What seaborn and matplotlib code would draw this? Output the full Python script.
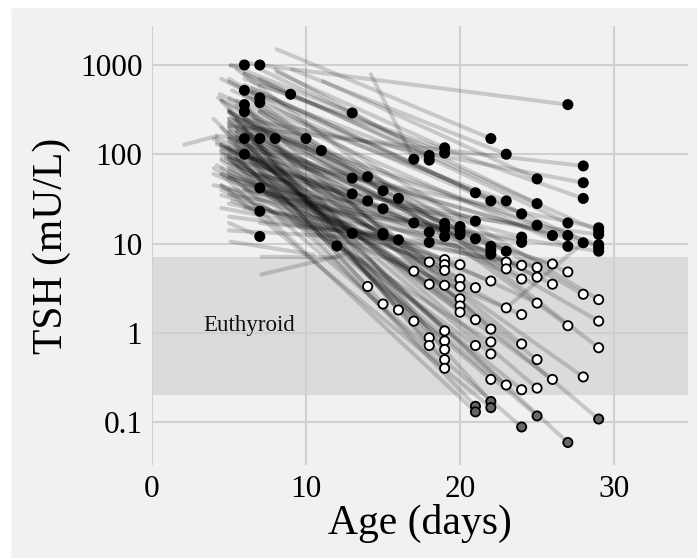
import matplotlib
matplotlib.use("Agg")
import matplotlib.pyplot as plt
from matplotlib.patches import Rectangle
import numpy as np
import pandas as pd
import seaborn as sns

# Individual TSH trajectories: start (age, TSH) -> end (age, TSH).
# The end of each trajectory is the plotted measurement.
start_day = [
    # early measurements, days 6-11
    5.1, 5.8, 4.5, 5.0, 5.2, 4.4, 4.3, 6.0, 4.2, 5.0, 5.5, 6.5, 7.0, 4.2, 5.0, 5.2, 5.0,
    # later measurements, still above range
    5.1, 4.5, 5.0, 4.2, 5.5, 5.0, 4.5, 5.0, 6.0, 4.5, 5.2, 7.0, 5.0,
    14.2, 8.0, 6.5, 8.1, 6.0, 4.5, 5.0, 4.8, 5.5, 4.5, 6.0, 5.0, 6.0, 4.0,
    6.0, 5.5, 4.5, 8.1, 6.0, 5.0, 5.0, 4.8, 9.1, 7.0, 5.5, 6.5, 5.0, 6.0,
    11.1, 7.0, 6.0, 5.0, 7.0, 7.0, 6.5, 5.5, 5.0, 6.0, 7.0, 6.0,
    5.5, 6.0, 7.0, 5.0, 6.5, 5.0,
    # later measurements, within or below range
    5.0, 4.5, 5.0, 4.5, 4.0, 4.0, 5.0, 4.5, 5.0,
    5.0, 4.5, 6.0, 4.5, 5.0, 4.0, 6.0, 5.5, 4.5,
    5.0, 4.2, 6.5, 5.0, 4.5, 6.0, 5.5, 5.0, 4.5, 5.0, 4.5,
    5.0, 6.0, 4.0, 5.5, 5.0, 6.0, 4.5, 5.0, 6.5, 5.0, 5.5,
    6.0, 5.0, 4.5, 6.0, 5.0, 4.5, 4.5, 6.5, 5.5, 5.0, 6.0, 5.5,
    7.0, 5.0, 6.0, 5.5, 6.0, 5.0, 7.0, 6.5, 5.0, 6.0, 5.5, 5.0,
]
start_tsh = [
    980, 1100, 700, 650, 520, 470, 430, 800, 160, 230, 260, 380, 300, 130, 55, 30, 17,
    1000, 400, 300, 150, 200, 60, 45, 250, 300, 120, 80, 17, 14,
    790, 900, 500, 830, 700, 130, 200, 90, 350, 100, 25, 420, 150, 45,
    600, 250, 60, 1500, 450, 300, 20, 120, 890, 330, 180, 550, 90, 40,
    660, 900, 200, 150, 1000, 700, 60, 400, 210, 250, 600, 120,
    100, 800, 40, 250, 500, 35,
    150, 200, 300, 110, 250, 60, 140, 400, 300,
    70, 35, 160, 90, 200, 150, 350, 180, 110,
    40, 75, 200, 65, 130, 100, 110, 180, 85, 120, 60,
    55, 350, 70, 140, 90, 200, 45, 28, 90, 80, 160,
    45, 110, 40, 260, 100, 70, 25, 170, 75, 230, 150, 90,
    60, 220, 110, 140, 500, 180, 300, 130, 700, 250, 900, 320,
]
end_day = [
    6, 7, 6, 7, 7, 6, 6, 9, 6, 7, 8, 10, 11, 6, 7, 7, 7,
    13, 13, 14, 13, 14, 13, 12, 15, 16, 15, 15, 15, 16,
    17, 18, 18, 19, 19, 17, 18, 18, 19, 19, 19, 20, 20, 20,
    21, 21, 21, 22, 22, 22, 22, 22, 23, 23, 23, 24, 24, 24,
    25, 25, 25, 26, 27, 27, 27, 27, 28, 28, 28, 28,
    29, 29, 29, 29, 29, 29,
    14, 15, 16, 17, 17, 18, 18, 18, 18,
    19, 19, 19, 19, 19, 19, 19, 19, 19,
    20, 20, 20, 20, 20, 20, 21, 21, 21, 21, 21,
    22, 22, 22, 22, 22, 22, 22, 23, 23, 23, 23,
    24, 24, 24, 24, 24, 24, 25, 25, 25, 25, 25, 25,
    26, 26, 26, 27, 27, 27, 28, 28, 29, 29, 29, 29,
]
end_tsh = [
    1000, 1000, 520, 430, 380, 360, 300, 470, 150, 150, 150, 150, 110, 100, 42, 23, 12,
    290, 54, 56, 36, 30, 13, 9.4, 39, 32, 24.5, 13, 12.5, 11,
    88, 97, 86, 118, 103, 17, 13.4, 10.3, 16.8, 14.7, 12, 15.5, 14, 12.6,
    37, 17.8, 11.3, 150, 30, 9.3, 8.4, 7.6, 100, 30, 8.2, 21.5, 11.8, 10.3,
    53, 28, 16, 12.3, 360, 17, 12.3, 9.3, 74, 48, 32, 10.2,
    15, 13.8, 12.6, 9.7, 9.0, 8.2,
    3.3, 2.1, 1.8, 4.9, 1.35, 6.2, 3.5, 0.88, 0.72,
    6.6, 5.8, 5.0, 3.4, 1.05, 0.81, 0.65, 0.5, 0.40,
    5.8, 4.0, 3.3, 2.4, 2.0, 1.7, 3.2, 1.4, 0.72, 0.15, 0.13,
    3.8, 1.1, 0.79, 0.58, 0.30, 0.17, 0.145, 6.2, 5.2, 1.9, 0.26,
    5.7, 4.0, 1.6, 0.75, 0.23, 0.088, 5.4, 4.2, 2.15, 0.5, 0.24, 0.117,
    5.9, 3.5, 0.30, 4.8, 1.2, 0.059, 2.7, 0.32, 2.35, 1.35, 0.68, 0.108,
]

# trajectory pieces with no measurement marked at their end
extra_start_day = [2.1, 7.1, 7.1, 5.1, 23.0]
extra_start_tsh = [128, 4.5, 7.1, 10.5, 1.9]
extra_end_day = [4.2, 12.5, 12.0, 10.5, 28.0]
extra_end_tsh = [160, 7.5, 7.0, 7.5, 10.2]

# euthyroid reference range (mU/L)
range_low = 0.2
range_high = 7

BG = "#F0F1F1"

sns.set_theme(style="whitegrid")
plt.rcParams["font.family"] = ["Liberation Serif", "DejaVu Serif"]

# long format so seaborn draws one line per trajectory
x0 = start_day + extra_start_day
y0 = start_tsh + extra_start_tsh
x1 = end_day + extra_end_day
y1 = end_tsh + extra_end_tsh
n = len(x0)
lines = pd.DataFrame({
    "id": np.repeat(np.arange(n), 2),
    "day": np.ravel(np.column_stack([x0, x1])),
    "tsh": np.ravel(np.column_stack([y0, y1])),
})

points = pd.DataFrame({"day": end_day, "tsh": end_tsh})
points["status"] = np.where(points["tsh"] > range_high, "high",
                            np.where(points["tsh"] < range_low, "low", "normal"))

fig = plt.figure(figsize=(6.97, 5.58), dpi=100, facecolor=BG)
# thin white margin along the top and left edge
fig.patches.append(Rectangle((0, 1 - 7 / 558), 1, 7 / 558, transform=fig.transFigure,
                             color="white", zorder=-1))
fig.patches.append(Rectangle((0, 0), 10 / 697, 1, transform=fig.transFigure,
                             color="white", zorder=-1))
ax = fig.add_axes([152 / 697, 1 - 465 / 558, (688 - 152) / 697, (465 - 26) / 558])
ax.set_facecolor(BG)

ax.axhspan(range_low, range_high, color="#DBDBDB", zorder=0.2, lw=0)

sns.lineplot(data=lines, x="day", y="tsh", units="id", estimator=None, sort=False,
             color="black", alpha=0.17, lw=2.9, ax=ax, legend=False, zorder=2)
sns.scatterplot(data=points, x="day", y="tsh", hue="status",
                palette={"high": "black", "normal": "white", "low": "#666666"},
                edgecolor="black", linewidth=1.3, s=44, legend=False, ax=ax, zorder=3)

ax.set_yscale("log")
ax.set_xlim(0, 34.8)
ax.set_ylim(0.033, 2735)
ax.set_yticks([0.1, 1, 10, 100, 1000])
ax.set_yticklabels(["0.1", "1", "10", "100", "1000"])
ax.set_xticks([0, 10, 20, 30])
ax.yaxis.set_minor_locator(matplotlib.ticker.NullLocator())

ax.set_axisbelow(True)
ax.grid(True, which="major", color="#D0D0D0", lw=1.5)
for s in ax.spines.values():
    s.set_visible(False)
ax.tick_params(length=0, labelsize=22.5, labelcolor="black", pad=7)

ax.set_xlabel("Age (days)", fontsize=30, color="black", labelpad=0)
ax.set_ylabel("TSH (mU/L)", fontsize=30, color="black", labelpad=6)

ax.text(6.3, 1.2, "Euthyroid", fontsize=16.5, ha="center", va="center", color="#111111")

fig.savefig("out.png", dpi=100, facecolor=fig.get_facecolor())
